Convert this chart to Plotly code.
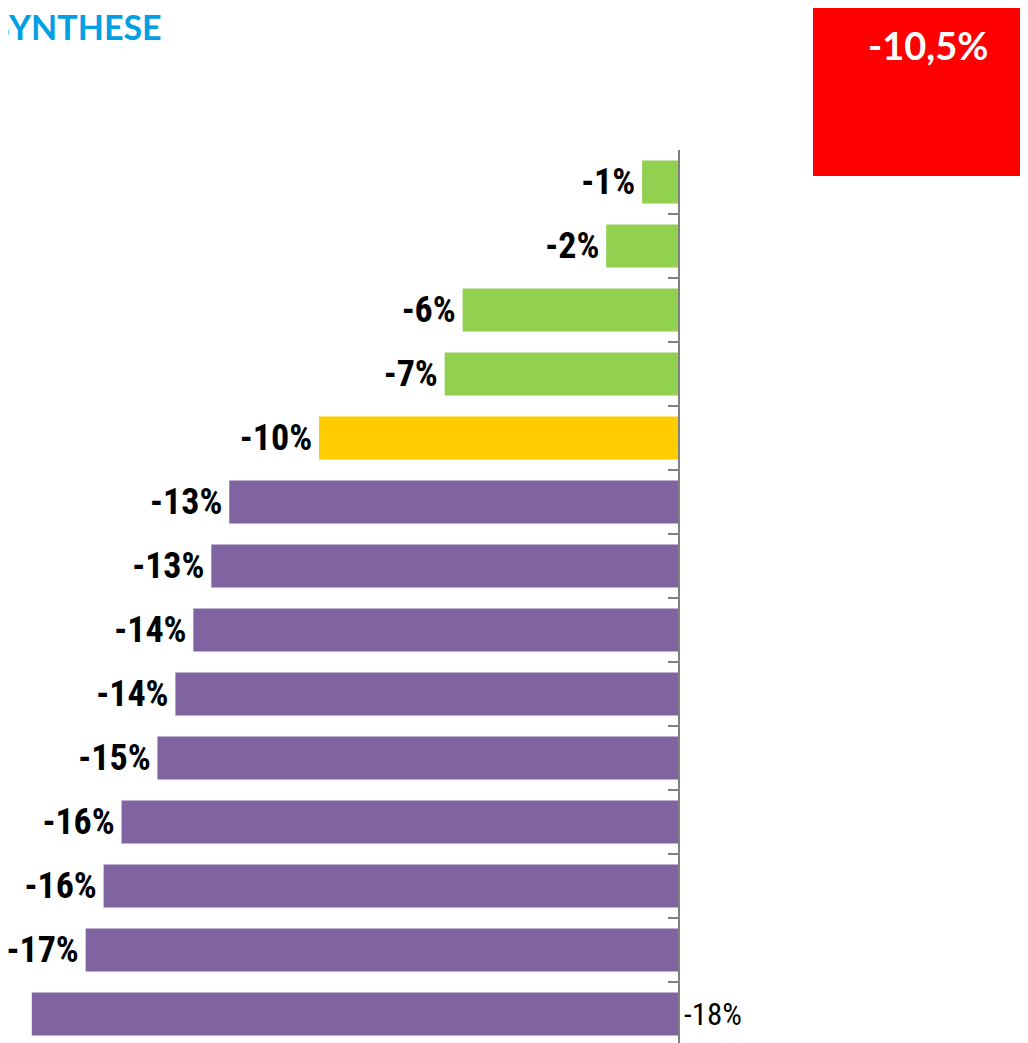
import plotly.graph_objects as go

# values (percent change), top to bottom
values = [-1.0, -2.0, -6.0, -6.5, -10.0, -12.5, -13.0, -13.5, -14.0, -14.5, -15.5, -16.0, -16.5, -18.0]
labels = ["-1%", "-2%", "-6%", "-7%", "-10%", "-13%", "-13%", "-14%", "-14%", "-15%",
          "-16%", "-16%", "-17%", "-18%"]
colors = ["#92D050"] * 4 + ["#FFCC00"] + ["#8064A2"] * 9
total_label = "-10,5%"
title = "SYNTHESE"

W, H = 1028, 1043
OFF = 8            # page body margin shifts the figure by 8px
TOP = 150 - OFF    # plot top in figure pixels
AXIS_X = 678 - OFF # zero line in figure pixels
PX_PER_UNIT = 35.9
ROW_PX = 64.0

positions = list(range(len(values)))
narrow = "Liberation Sans Narrow, Roboto Condensed, Roboto, sans-serif"

fig = go.Figure()
fig.add_trace(
    go.Bar(
        x=values,
        y=positions,
        orientation="h",
        marker=dict(color=colors, line=dict(width=0)),
        width=0.67,
        text=[t + "\u200a" for t in labels[:-1]] + [""],
        textposition="outside",
        textfont=dict(family=narrow, size=36, color="black", weight="bold"),
        cliponaxis=False,
        hoverinfo="skip",
    )
)

# label of the last bar sits right of the axis
fig.add_annotation(
    x=0, y=positions[-1], xref="x", yref="y",
    text=labels[-1], showarrow=False, xanchor="left", xshift=4,
    font=dict(family=narrow, size=31, color="black"),
)

plot_h = H - TOP
fig.update_yaxes(
    range=[-0.5 + plot_h / ROW_PX, -0.5],
    side="right",
    showline=True, linecolor="#808080", linewidth=2,
    ticks="inside", ticklen=10, tickwidth=2, tickcolor="#808080",
    tickvals=[p - 0.5 for p in positions],
    showticklabels=False, showgrid=False, zeroline=False,
)
fig.update_xaxes(
    domain=[0, AXIS_X / W],
    range=[-AXIS_X / PX_PER_UNIT, 0],
    visible=False,
)

fig.add_shape(
    type="rect", xref="paper", yref="paper",
    x0=(813 - OFF) / W, x1=1.0,
    y0=1 - (176 - 150) / plot_h, y1=1 + TOP / plot_h,
    fillcolor="#FF0000", line=dict(width=0), layer="above",
)
fig.add_annotation(
    xref="paper", yref="paper", x=(928 - OFF) / W, y=1 + (150 - 45) / plot_h,
    text=total_label, showarrow=False, xanchor="center", yanchor="middle",
    font=dict(family="Lato, Open Sans, sans-serif", size=38, color="white", weight="bold"),
)
fig.add_annotation(
    xref="paper", yref="paper", x=(164 - OFF) / W, y=1 + (150 - 27) / plot_h,
    text=title, showarrow=False, xanchor="right", yanchor="middle",
    font=dict(family="Lato, Open Sans, sans-serif", size=34, color="#00A0E3", weight="bold"),
)

fig.update_layout(
    width=W, height=H,
    margin=dict(l=0, r=0, t=TOP, b=0, pad=0),
    plot_bgcolor="white", paper_bgcolor="white",
    showlegend=False,
    bargap=0.33,
)

fig.write_html("out.html")
